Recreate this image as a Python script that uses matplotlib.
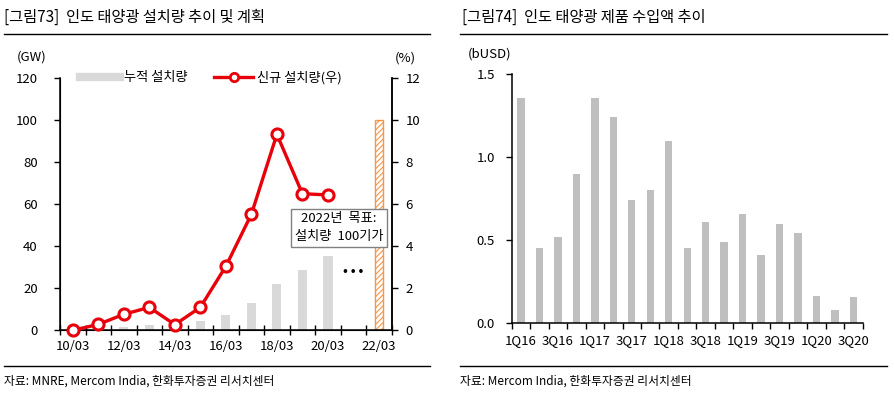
import numpy as np
import matplotlib
matplotlib.use("Agg")
import matplotlib.pyplot as plt
from matplotlib.lines import Line2D

plt.rcParams['font.family'] = ['Noto Sans CJK KR', 'DejaVu Sans']
plt.rcParams['hatch.linewidth'] = 0.8

# ---- 데이터: 그림73 (인도 태양광 설치량) ----
years = ['10/03', '11/03', '12/03', '13/03', '14/03', '15/03', '16/03',
         '17/03', '18/03', '19/03', '20/03', '21/03', '22/03']
cumulative_gw = [0.2, 0.6, 1.7, 2.5, 2.8, 4.4, 7.3, 12.8, 22.0, 28.8, 35.4, np.nan, np.nan]
target_gw = [np.nan] * 12 + [100]
new_pct = [0.0, 0.28, 0.76, 1.09, 0.27, 1.09, 3.04, 5.51, 9.31, 6.49, 6.43, np.nan, np.nan]

# ---- 데이터: 그림74 (인도 태양광 제품 수입액) ----
quarters = ['1Q16', '2Q16', '3Q16', '4Q16', '1Q17', '2Q17', '3Q17', '4Q17',
            '1Q18', '2Q18', '3Q18', '4Q18', '1Q19', '2Q19', '3Q19', '4Q19',
            '1Q20', '2Q20', '3Q20']
imports_busd = [1.36, 0.45, 0.52, 0.90, 1.36, 1.24, 0.74, 0.80, 1.10, 0.45,
                0.61, 0.49, 0.66, 0.41, 0.60, 0.54, 0.16, 0.08, 0.155]

W, H = 894, 393
fig = plt.figure(figsize=(W / 100, H / 100), dpi=100)

def fx(px):
    return px / W

def fy(py):
    return 1 - py / H

tick_fs = 9.5

# ================= 왼쪽 차트 =================
ax = fig.add_axes([fx(60), fy(330.3), fx(391.7 - 60), fy(77.7) - fy(330.3)])
x = np.arange(len(years))
ax.bar(x, cumulative_gw, width=0.36, color='#D9D9D9', zorder=2)
ax.bar(x, target_gw, width=0.28, color='white', edgecolor='#F79646',
       hatch='//////', linewidth=1.0, zorder=2)
ax.set_xlim(-0.5, len(years) - 0.5)
ax.set_ylim(0, 120)
ax.set_yticks(range(0, 121, 20))
ax.set_xticks(np.arange(-0.5, len(years)), minor=False)
ax.set_xticklabels([])
ax.set_xticks(x[::2], minor=True)
ax.set_xticklabels(years[::2], minor=True)
ax.tick_params(axis='x', which='major', direction='inout', length=7, width=1)
ax.tick_params(axis='x', which='minor', length=0, pad=7, labelsize=tick_fs)
ax.tick_params(axis='y', direction='out', length=4, width=1, labelsize=tick_fs, pad=12)
ax.spines['top'].set_visible(False)
for s in ['left', 'bottom', 'right']:
    ax.spines[s].set_linewidth(1.1)

ax2 = ax.twinx()
ax2.plot(x, new_pct, color='#E8000B', lw=2.4, marker='o', ms=8,
         mfc='white', mec='#E8000B', mew=2.2, clip_on=False, zorder=4)
ax2.set_ylim(0, 12)
ax2.set_yticks(range(0, 13, 2))
ax2.tick_params(axis='y', direction='out', length=4, width=1, labelsize=tick_fs, pad=6)
ax2.spines['top'].set_visible(False)
ax2.spines['right'].set_linewidth(1.1)

ax2.text(10.44, 4.86, '2022년  목표:\n설치량  100기가', fontsize=9.5, ha='center',
         va='center', linespacing=1.5, zorder=6,
         bbox=dict(boxstyle='square,pad=0.3', fc='white', ec='#808080', lw=1.0))
ax2.text(11.0, 2.77, '• • •', fontsize=9, fontweight='bold', ha='center', va='center')

handles = [Line2D([], [], color='#D9D9D9', lw=6),
           Line2D([], [], color='#E8000B', lw=2.4, marker='o', ms=6,
                  mfc='white', mec='#E8000B', mew=2)]
ax2.legend(handles, ['누적 설치량', '신규 설치량(우)'], loc='center left',
           bbox_to_anchor=(0.025, 1.0), ncol=2, frameon=False, fontsize=9.5,
           handlelength=3.0, handletextpad=0.3, columnspacing=2.0)

fig.text(fx(32), fy(57), '(GW)', fontsize=9.5, ha='center', va='center')
fig.text(fx(405), fy(58), '(%)', fontsize=9.5, ha='center', va='center')

# ================= 오른쪽 차트 =================
bx = fig.add_axes([fx(511.7), fy(323), fx(862.7 - 511.7), fy(74.3) - fy(323)])
q = np.arange(len(quarters))
bx.bar(q, imports_busd, width=0.4, color='#BFBFBF', zorder=2)
bx.set_xlim(-0.5, len(quarters) - 0.5)
bx.set_ylim(0, 1.5)
bx.set_yticks([0.0, 0.5, 1.0, 1.5])
bx.set_yticklabels(['0.0', '0.5', '1.0', '1.5'])
bx.set_xticks(np.arange(-0.5, len(quarters)), minor=False)
bx.set_xticklabels([])
bx.set_xticks(q[::2], minor=True)
bx.set_xticklabels(quarters[::2], minor=True)
bx.tick_params(axis='x', which='major', direction='out', length=4, width=1)
bx.tick_params(axis='x', which='minor', length=0, pad=8, labelsize=tick_fs)
bx.tick_params(axis='y', direction='out', length=4, width=1, labelsize=tick_fs, pad=8)
bx.spines['top'].set_visible(False)
bx.spines['right'].set_visible(False)
for s in ['left', 'bottom']:
    bx.spines[s].set_linewidth(1.1)

fig.text(fx(490), fy(54), '(bUSD)', fontsize=9.5, ha='center', va='center')

# ================= 제목, 구분선, 출처 =================
fig.text(fx(4), fy(17), '[그림73]  인도 태양광 설치량 추이 및 계획', fontsize=11,
         ha='left', va='center')
fig.text(fx(462), fy(17), '[그림74]  인도 태양광 제품 수입액 추이', fontsize=11,
         ha='left', va='center')
for x0, x1 in [(4, 430), (460, 887)]:
    for yy in [34, 366]:
        fig.add_artist(Line2D([fx(x0), fx(x1)], [fy(yy), fy(yy)], color='black', lw=1.0))
fig.text(fx(4), fy(381), '자료: MNRE, Mercom India, 한화투자증권 리서치센터', fontsize=8.5,
         ha='left', va='center')
fig.text(fx(460), fy(381), '자료: Mercom India, 한화투자증권 리서치센터', fontsize=8.5,
         ha='left', va='center')

fig.savefig('out.png', dpi=100)
